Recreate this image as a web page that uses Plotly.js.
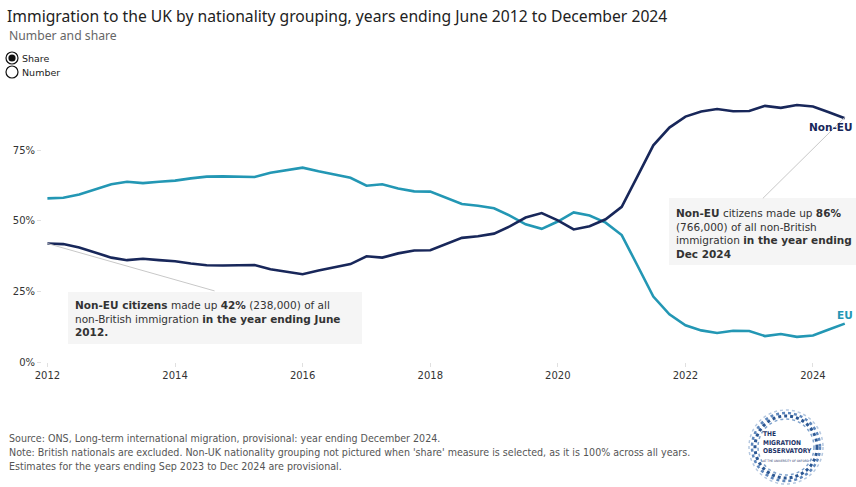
<!DOCTYPE html>
<html>
<head>
<meta charset="utf-8">
<script src="https://cdn.plot.ly/plotly-3.0.1.min.js"></script>
<style>
  html, body { margin: 0; padding: 0; background: #ffffff; }
  #chart { width: 856px; height: 487px; }
</style>
</head>
<body>
<div id="chart"></div>
<script>
// Period plotted (Tableau places each "year ending" value at a quarter start)
const periods = [
  "2012-01-01","2012-04-01","2012-07-01","2012-10-01",
  "2013-01-01","2013-04-01","2013-07-01","2013-10-01",
  "2014-01-01","2014-04-01","2014-07-01","2014-10-01",
  "2015-01-01","2015-04-01","2015-07-01","2015-10-01",
  "2016-01-01","2016-04-01","2016-07-01","2016-10-01",
  "2017-01-01","2017-04-01","2017-07-01","2017-10-01",
  "2018-01-01","2018-04-01","2018-07-01","2018-10-01",
  "2019-01-01","2019-04-01","2019-07-01","2019-10-01",
  "2020-01-01","2020-04-01","2020-07-01","2020-10-01",
  "2021-01-01","2021-04-01","2021-07-01","2021-10-01",
  "2022-01-01","2022-04-01","2022-07-01","2022-10-01",
  "2023-01-01","2023-04-01","2023-07-01","2023-10-01",
  "2024-01-01","2024-04-01","2024-07-01"
];

// Share of non-British immigration, %
const nonEU = [
  42.0, 41.8, 40.6, 38.7, 37.0, 36.1, 36.6, 36.1, 35.7, 34.9,
  34.3, 34.2, 34.4, 34.4, 32.9, 32.0, 31.1, 32.4, 33.6, 34.7,
  37.5, 37.0, 38.5, 39.5, 39.6, 41.8, 44.0, 44.6, 45.5, 48.1,
  51.2, 52.8, 50.2, 47.0, 48.1, 50.6, 55.0, 65.8, 76.8, 83.1,
  87.0, 88.8, 89.7, 88.9, 89.0, 90.8, 90.1, 91.1, 90.6, 88.5,
  86.4
];
const eu = [
  58.0, 58.2, 59.4, 61.3, 63.0, 63.9, 63.4, 63.9, 64.3, 65.1,
  65.7, 65.8, 65.6, 65.6, 67.1, 68.0, 68.9, 67.6, 66.4, 65.3,
  62.5, 63.0, 61.5, 60.5, 60.4, 58.2, 56.0, 55.4, 54.5, 51.9,
  48.8, 47.2, 49.8, 53.0, 51.9, 49.4, 45.0, 34.2, 23.2, 16.9,
  13.0, 11.2, 10.3, 11.1, 11.0, 9.2, 9.9, 8.9, 9.4, 11.5,
  13.6
];

const yTickVals = [0, 25, 50, 75];
const yTickText = ["0%", "25%", "50%", "75%"];

const NAVY = "#18275a";
const TEAL = "#2397b4";

// pixel helpers (plot area: l=42, r=6, t=94, b=125)
const L = 42, T = 94, PW = 808, PH = 268;
const px = v => (v - L) / PW;
const py = v => (T + PH - v) / PH;

const traces = [
  { x: periods, y: eu, type: "scatter", mode: "lines", name: "EU",
    line: { color: TEAL, width: 2.6 }, hoverinfo: "skip" },
  { x: periods, y: nonEU, type: "scatter", mode: "lines", name: "Non-EU",
    line: { color: NAVY, width: 2.6 }, hoverinfo: "skip" }
];

const bodyFont = "DejaVu Sans, Verdana, sans-serif";
const condFont = "DejaVu Sans Condensed, Liberation Sans Narrow, sans-serif";

const annotations = [
  { xref: "paper", yref: "paper", x: px(7), y: py(36), xanchor: "left", yanchor: "middle",
    text: "Number and share", showarrow: false,
    font: { family: "Noto Sans, sans-serif", size: 12.2, color: "#666" } },
  { xref: "paper", yref: "paper", x: px(20), y: py(58), xanchor: "left", yanchor: "middle",
    text: "Share", showarrow: false, font: { family: bodyFont, size: 9.5, color: "#222" } },
  { xref: "paper", yref: "paper", x: px(20), y: py(72), xanchor: "left", yanchor: "middle",
    text: "Number", showarrow: false, font: { family: bodyFont, size: 9.5, color: "#222" } },
  // series labels
  { xref: "paper", yref: "paper", x: px(855), y: py(127), xanchor: "right", yanchor: "middle",
    text: "<b>Non-EU</b>", showarrow: false, font: { family: bodyFont, size: 10.5, color: NAVY } },
  { xref: "paper", yref: "paper", x: px(855), y: py(315), xanchor: "right", yanchor: "middle",
    text: "<b>EU</b>", showarrow: false, font: { family: bodyFont, size: 10.5, color: TEAL } },
  // callout texts
  { xref: "paper", yref: "paper", x: px(73), y: py(297), xanchor: "left", yanchor: "top", align: "left",
    text: "<b>Non-EU citizens</b> made up <b>42%</b> (238,000) of all<br>non-British immigration <b>in the year ending June</b><br><b>2012.</b>",
    showarrow: false, font: { family: bodyFont, size: 10.5, color: "#333" } },
  { xref: "paper", yref: "paper", x: px(674), y: py(205), xanchor: "left", yanchor: "top", align: "left",
    text: "<b>Non-EU</b> citizens made up <b>86%</b><br>(766,000) of all non-British<br>immigration <b>in the year ending</b><br><b>Dec 2024</b>",
    showarrow: false, font: { family: bodyFont, size: 10.5, color: "#333" } },
  // footer
  { xref: "paper", yref: "paper", x: px(7), y: py(430), xanchor: "left", yanchor: "top", align: "left",
    text: "Source: ONS, Long-term international migration, provisional: year ending December 2024.<br>Note: British nationals are excluded. Non-UK nationality grouping not pictured when 'share' measure is selected, as it is 100% across all years.<br>Estimates for the years ending Sep 2023 to Dec 2024 are provisional.",
    showarrow: false, font: { family: condFont, size: 10.6, color: "#555" } },
  // logo text
  { xref: "paper", yref: "paper", x: px(761), y: py(442), xanchor: "left", yanchor: "middle", align: "left",
    text: "<b>THE<br>MIGRATION<br>OBSERVATORY</b>",
    showarrow: false, font: { family: condFont, size: 6.6, color: "#1c3266" } },
  { xref: "paper", yref: "paper", x: px(761), y: py(461), xanchor: "left", yanchor: "middle",
    text: "AT THE UNIVERSITY OF OXFORD", showarrow: false,
    font: { family: condFont, size: 3.2, color: "#1c3266" } }
];

function circ(cx, cy, r, opts) {
  return Object.assign({
    type: "circle", xref: "paper", yref: "paper",
    xsizemode: "pixel", ysizemode: "pixel",
    xanchor: px(cx), yanchor: py(cy),
    x0: -r, x1: r, y0: -r, y1: r
  }, opts);
}

const shapes = [
  // callout boxes
  { type: "rect", xref: "paper", yref: "paper", x0: px(68), x1: px(362), y0: py(344), y1: py(292),
    fillcolor: "#f5f5f5", line: { width: 0 }, layer: "below" },
  { type: "rect", xref: "paper", yref: "paper", x0: px(669), x1: px(856), y0: py(265), y1: py(198),
    fillcolor: "#f5f5f5", line: { width: 0 }, layer: "below" },
  // callout leader lines
  { type: "line", xref: "x", yref: "y", x0: periods[0], y0: nonEU[0], x1: "2014-08-15", y1: 25.2,
    line: { color: "#c8c8c8", width: 1 } },
  { type: "line", xref: "x", yref: "y", x0: periods[periods.length - 1], y0: nonEU[nonEU.length - 1] + 0.3,
    x1: "2023-03-20", y1: 58.0, line: { color: "#c8c8c8", width: 1 } },
  // radio buttons
  circ(12, 58, 6, { line: { color: "#111", width: 1.2 }, fillcolor: "#fff" }),
  circ(12, 58, 3.6, { line: { color: "#111", width: 0 }, fillcolor: "#111" }),
  circ(12, 72, 6, { line: { color: "#111", width: 1.2 }, fillcolor: "#fff" }),
  // logo rings (speckled)
  circ(786, 447, 37, { line: { color: "#b5c8e0", width: 1.5, dash: "dot" } }),
  circ(786, 447, 34, { line: { color: "#5d86bb", width: 2.5, dash: "dot" } }),
  circ(786, 447, 31, { line: { color: "#2b5793", width: 3, dash: "dot" } }),
  circ(786, 447, 28, { line: { color: "#7fa2cc", width: 1.5, dash: "dot" } })
];

const layout = {
  width: 856, height: 487,
  margin: { l: L, r: 856 - L - PW, t: T, b: 487 - T - PH },
  paper_bgcolor: "#ffffff", plot_bgcolor: "#ffffff",
  showlegend: false,
  title: {
    text: "Immigration to the UK by nationality grouping, years ending June 2012 to December 2024",
    xref: "container", yref: "container", x: 7 / 856, xanchor: "left",
    y: 1 - 17 / 487, yanchor: "middle",
    font: { family: "Noto Sans, sans-serif", size: 15.7, color: "#222" }
  },
  xaxis: {
    type: "date", range: ["2011-12-01", "2024-07-31"],
    tick0: "2012-01-01", dtick: "M24", tickformat: "%Y",
    showgrid: false, zeroline: false, showline: false,
    ticks: "outside", ticklen: 4, tickcolor: "#e0e0e0",
    tickfont: { family: bodyFont, size: 10, color: "#333" }
  },
  yaxis: {
    range: [0, 95], tickvals: yTickVals, ticktext: yTickText,
    showgrid: false, zeroline: false, showline: false,
    ticks: "outside", ticklen: 4, tickcolor: "#e0e0e0",
    tickfont: { family: bodyFont, size: 10, color: "#333" }
  },
  annotations: annotations,
  shapes: shapes
};

Plotly.newPlot("chart", traces, layout, { displayModeBar: false, staticPlot: true });
</script>
</body>
</html>
